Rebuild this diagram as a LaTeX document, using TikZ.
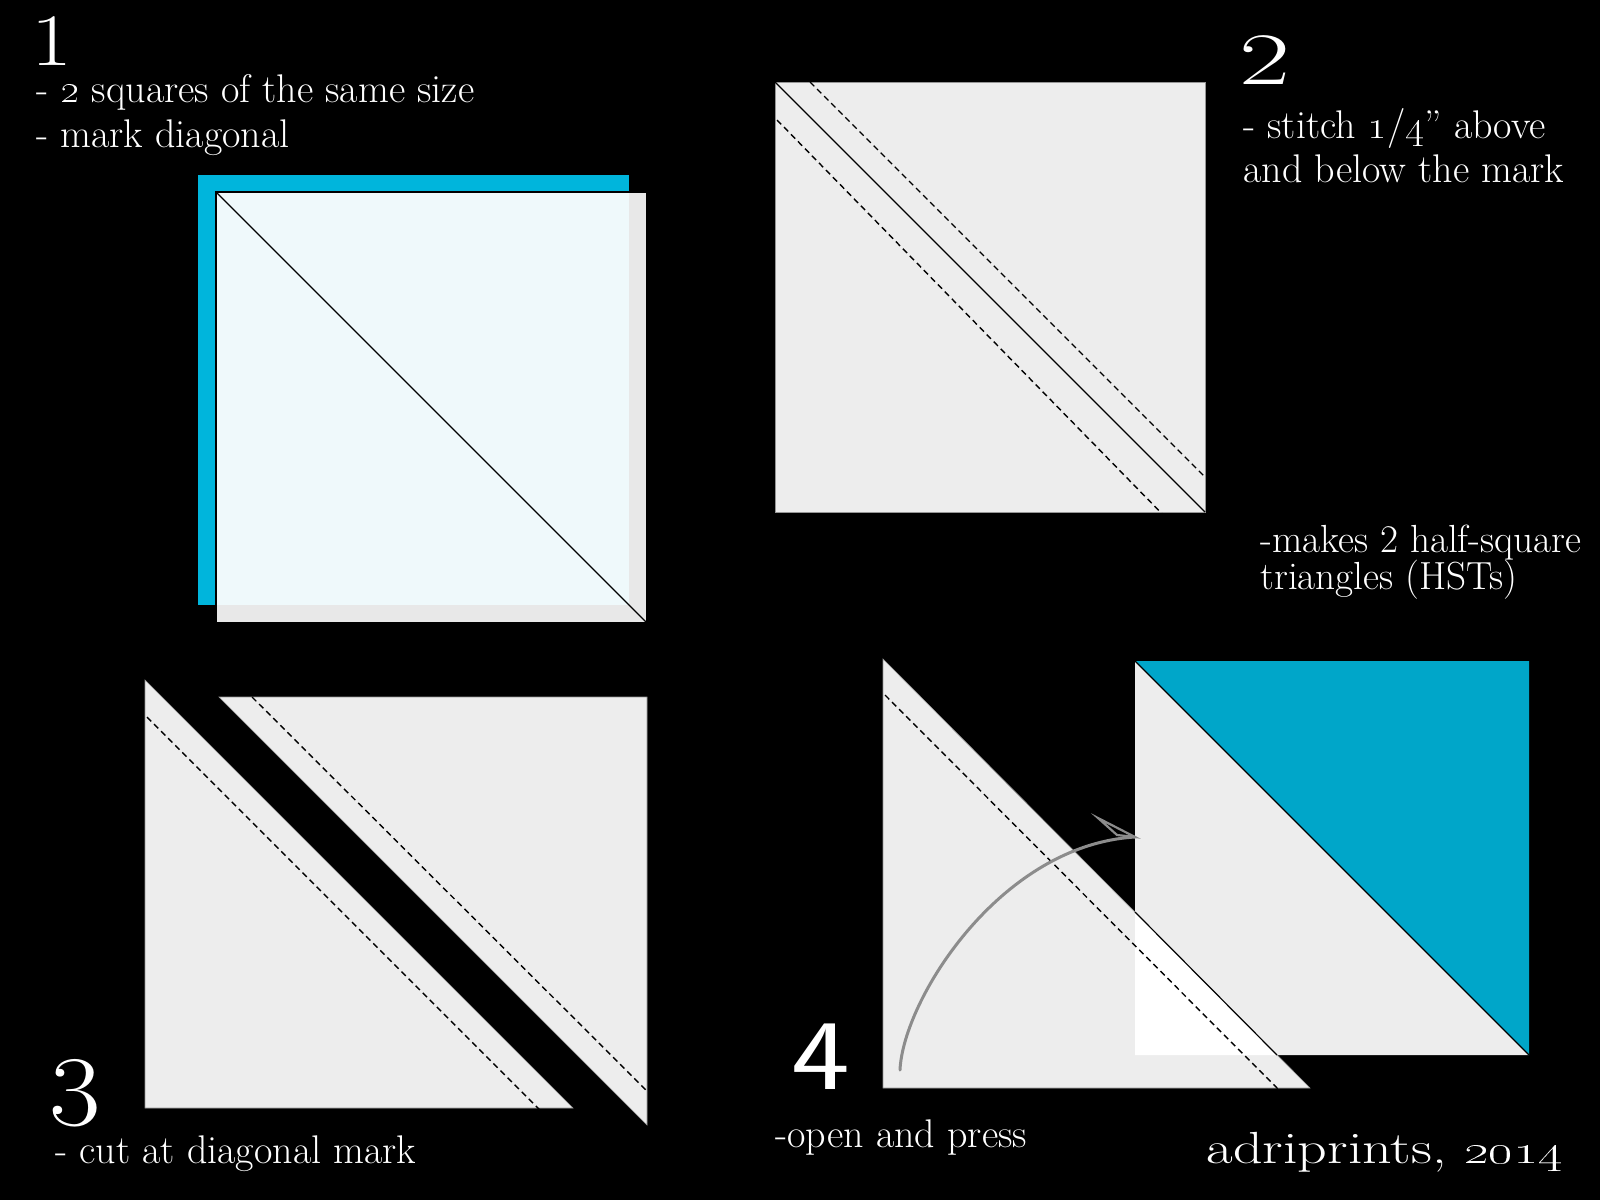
\documentclass[tikz,border=0pt]{standalone}
\usepackage{graphicx}
\definecolor{blueA}{RGB}{0,181,220}
\definecolor{blueB}{RGB}{0,166,201}
\definecolor{tint}{RGB}{239,249,251}
\definecolor{paper}{RGB}{237,237,237}
\definecolor{paperB}{RGB}{232,232,232}
\definecolor{arrowgray}{RGB}{140,140,140}
\definecolor{edgegray}{RGB}{150,150,150}
\begin{document}
\begin{tikzpicture}[x=0.5pt,y=-0.5pt,
  body/.style={text=white,inner sep=0pt,anchor=base west,font=\fontsize{20}{24}\selectfont},
  smallbody/.style={text=white,inner sep=0pt,anchor=base west,font=\fontsize{19.6}{23}\selectfont},
  bignum/.style={text=white,inner sep=0pt,anchor=south west,font=\fontsize{37}{40}\selectfont},
  sewn/.style={black,line width=0.7pt,dash pattern=on 3pt off 2pt},
  markline/.style={black,line width=0.6pt},
  piece/.style={fill=paper,draw=edgegray,line width=0.3pt}]
\fill[black] (0,0) rectangle (1600,1200);
\useasboundingbox (0,0) rectangle (1600,1200);

% ---------- step 1 ----------
\fill[blueA] (198,175) rectangle (629,605);
\fill[paperB] (216,192) rectangle (647,623);
\fill[tint] (216,192) rectangle (629,605);
\draw[black,line width=0.6pt] (216,192) rectangle (647,623);
\coordinate (s1tl) at (216,192);
\coordinate (s1br) at (647,623);
\draw[markline] (s1tl) -- (s1br);

% ---------- step 2 ----------
\filldraw[fill=paper,draw=edgegray,line width=0.5pt] (775,82) rectangle (1205,512);
\coordinate (s2tl) at (775,82);
\coordinate (s2br) at (1205,512);
\draw[markline] (s2tl) -- (s2br);
\coordinate (s2ua) at (810,82);
\coordinate (s2ub) at (1204,476);
\draw[sewn] (s2ua) -- (s2ub);
\coordinate (s2la) at (777,120);
\coordinate (s2lb) at (1173,525);
\draw[sewn] (s2la) -- (s2lb);

% ---------- step 3 ----------
\filldraw[piece] (145,680) -- (145,1108) -- (573,1108) -- cycle;
\coordinate (s3la) at (147,717);
\coordinate (s3lb) at (542,1112);
\draw[sewn] (s3la) -- (s3lb);
\filldraw[piece] (219,697) -- (647,697) -- (647,1125) -- cycle;
\coordinate (s3ra) at (252,697);
\coordinate (s3rb) at (646,1090);
\draw[sewn] (s3ra) -- (s3rb);

% ---------- step 4 ----------
\filldraw[piece] (883,659) -- (883,1088) -- (1310,1088) -- cycle;
\fill[paper] (1135,661) -- (1135,1055) -- (1529,1055) -- cycle;
\fill[blueB] (1135,661) -- (1529,661) -- (1529,1055) -- cycle;
\coordinate (s4tl) at (1135,661);
\coordinate (s4br) at (1529,1055);
\draw[markline] (s4tl) -- (s4br);
\fill[white] (1135,912) -- (1135,1055) -- (1277,1055) -- cycle;
\coordinate (s4ha) at (1135,912);
\coordinate (s4hb) at (1277,1055);
\draw[markline] (s4ha) -- (s4hb);
\coordinate (s4da) at (885,695);
\coordinate (s4db) at (1281,1092);
\draw[sewn] (s4da) -- (s4db);
\coordinate (a0) at (900,1070);
\coordinate (a1) at (1135,837);
\coordinate (ab) at (1098,818);
\coordinate (ac) at (1117,835);
\draw[arrowgray,line width=1.5pt,line cap=round] (a0) .. controls (903,1000) and (1000,845) .. (a1);
\draw[arrowgray,line width=1.1pt,line join=miter] (a1) -- (ab) -- (ac) -- cycle;

% ---------- texts ----------
\node[bignum] (n1) at (31,66) {\scalebox{1.2}[1]{1}};
\node[body] (t1a) at (36,102) {- \oldstylenums{2} squares of the same size};
\node[body] (t1b) at (36,147) {- mark diagonal};

\node[bignum] (n2) at (1239,85) {\scalebox{1.5}[1]{2}};
\node[body] (t2a) at (1243,138) {- stitch \oldstylenums{1}/\oldstylenums{4}” above};
\node[body] (t2b) at (1243,182) {and below the mark};

\node[smallbody] (t4x) at (1260,552) {-makes 2 half-square};
\node[smallbody] (t4y) at (1260,589) {triangles (HSTs)};

\node[bignum,font=\fontsize{50}{54}\selectfont] (n3) at (49,1127) {\scalebox{1.12}[1]{3}};
\node[body] (t3) at (55,1163) {- cut at diagonal mark};

\node[text=white,inner sep=0pt,anchor=south west,font=\sffamily\fontsize{50}{54}\selectfont] (n4) at (791,1090) {\scalebox{1.25}[1]{4}};
\node[body] (t4) at (775,1147) {-open and press};

\node[text=white,inner sep=0pt,anchor=base west,font=\fontsize{22.5}{26}\selectfont] (sig) at (1206,1163) {\scalebox{1.29}[1]{adriprints, \oldstylenums{2014}}};
\end{tikzpicture}
\end{document}
